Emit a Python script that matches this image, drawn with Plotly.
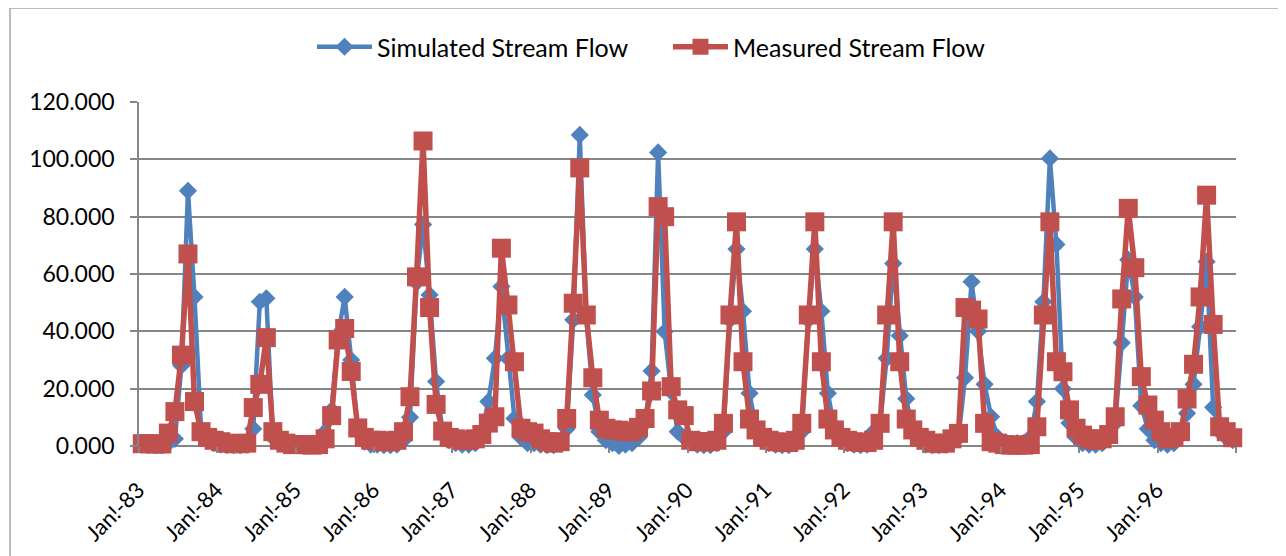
import plotly.graph_objects as go

# ---- data (monthly, Jan-1983 .. Dec-1996) ----
simulated = [
    0.5, 0.5, 0.3, 0.3, 1, 2.5, 28, 89, 52, 6, 2, 1,            # 1983
    0.5, 0.3, 0.3, 0.3, 0.5, 6, 50.3, 51.5, 3, 1, 0.5, 0.3,     # 1984
    0.3, 0.3, 0.3, 0.3, 5, 12.5, 39, 52, 30, 5, 1.5, 0.5,       # 1985
    0.5, 0.3, 0.3, 0.5, 2, 10, 57, 77.3, 52.7, 22.5, 5, 2,      # 1986
    1, 0.5, 0.5, 1, 5, 15.5, 30.6, 55.6, 30.6, 9.6, 3, 1,       # 1987
    1, 0.5, 0.3, 0.3, 1.5, 6, 44, 108.5, 45, 17.8, 5, 2,        # 1988
    1, 0, 0.5, 1, 3, 8, 26.2, 102.4, 39.9, 19, 5, 3,            # 1989
    1.5, 0.5, 0.3, 0.3, 1, 5, 44, 68.7, 47, 18.4, 6, 2,         # 1990
    1, 0.5, 0.3, 0.3, 1, 5, 44, 68.7, 47, 18.4, 6, 2,           # 1991
    1, 0.5, 0.3, 0.5, 5, 8, 30.6, 63.7, 38.5, 16.5, 5, 2,       # 1992
    0.5, 0.3, 0.3, 0.5, 1.5, 3, 23.8, 57.3, 40, 21.5, 10.2, 3,  # 1993
    1, 0.5, 1, 1, 3, 15.5, 50.3, 100.3, 70.3, 20, 8, 3,         # 1994
    1, 0.5, 0.5, 1, 3, 8, 36, 65, 52, 14, 6, 2,                 # 1995
    1, 0.5, 1, 5, 11.4, 21.5, 41.6, 64.3, 13.5, 5, 3, 2,        # 1996
]
measured = [
    0.8, 0.8, 0.7, 0.7, 4.5, 12, 31.7, 67, 15.5, 5, 3, 2,       # 1983
    1.5, 1, 0.8, 0.8, 1, 13.4, 21.5, 37.8, 5, 2, 1, 0.5,        # 1984
    0.5, 0.5, 0.3, 0.5, 2.5, 10.6, 37, 41, 26, 6.3, 3, 2,       # 1985
    2, 1.5, 1.5, 2, 5, 17.2, 59, 106.4, 48.3, 14.5, 5.2, 3,     # 1986
    2.5, 2, 2, 2.5, 4, 8, 10.2, 69, 49.2, 29.4, 6.2, 5,         # 1987
    4.5, 2.5, 1.5, 1, 1.5, 9.6, 49.8, 97, 45.7, 23.8, 9, 6.2,   # 1988
    5.6, 5.5, 5, 5, 6.5, 9.6, 19.2, 83.5, 80, 20.7, 12.6, 10.6, # 1989
    2, 1.5, 1.5, 1.5, 2, 7.9, 45.7, 78.2, 29.4, 9.4, 5.6, 3,    # 1990
    2, 1.5, 1.2, 1.2, 2, 7.9, 45.7, 78.2, 29.4, 9.4, 5.6, 3,    # 1991
    2, 1.5, 1.2, 1.2, 2, 7.9, 45.7, 78.2, 29.4, 9.4, 5.6, 3,    # 1992
    2, 1, 0.8, 1, 2.5, 4.4, 48.3, 47.4, 44.3, 7.9, 1.5, 1,      # 1993
    0.5, 0.3, 0.3, 0.3, 0.5, 6.7, 45.7, 78.2, 29.4, 25.9, 12.6, 6.2,  # 1994
    3.8, 2.5, 2, 2.5, 4, 10.2, 51.3, 82.9, 62.2, 24.2, 14.3, 9, # 1995
    5, 2.5, 3, 5, 16.4, 28.5, 52, 87.5, 42.4, 6.7, 5, 2.9,      # 1996
]
tick_labels = ["Jan!-83", "Jan!-84", "Jan!-85", "Jan!-86", "Jan!-87", "Jan!-88",
               "Jan!-89", "Jan!-90", "Jan!-91", "Jan!-92", "Jan!-93", "Jan!-94",
               "Jan!-95", "Jan!-96"]

n = len(measured)
x = list(range(n))
tick_vals = [12 * k for k in range(len(tick_labels))]
boundary_ticks = [12 * k - 0.5 for k in range(len(tick_labels) + 1)]

FONT = "Lato, Carlito, Calibri, sans-serif"
BLUE = "#4F81BD"
RED = "#C0504D"
GRID = "#868686"

# page has an 8px body margin -> figure drawn 8px in from top-left
W, H = 1278, 548
L, T = 131, 94
PW, PH = 1097, 344

fig = go.Figure()
fig.add_trace(go.Scatter(
    x=x, y=simulated, name="Simulated Stream Flow", mode="lines+markers",
    line=dict(color=BLUE, width=4.5),
    marker=dict(symbol="diamond", size=14, color=BLUE),
    cliponaxis=False,
))
fig.add_trace(go.Scatter(
    x=x, y=measured, name="Measured Stream Flow", mode="lines+markers",
    line=dict(color=RED, width=5.5),
    marker=dict(symbol="square", size=19, color=RED),
    cliponaxis=False,
))

fig.update_layout(
    width=W, height=H,
    margin=dict(l=L, r=W - L - PW, t=T, b=H - T - PH, autoexpand=False),
    paper_bgcolor="white", plot_bgcolor="white",
    font=dict(family=FONT, size=23, color="black"),
    showlegend=True,
    legend=dict(orientation="h", xref="container", yref="container",
                x=304 / W, xanchor="left", y=1 - 39 / H, yanchor="middle",
                font=dict(family=FONT, size=25), itemwidth=55,
                entrywidth=286, entrywidthmode="pixels",
                bgcolor="rgba(0,0,0,0)"),
    xaxis=dict(range=[-0.5, n - 0.5], tickmode="array", tickvals=tick_vals,
               ticktext=tick_labels, tickangle=-45, ticks="",
               showgrid=False, zeroline=False, showline=False,
               ticklabelshift=-4, ticklabelstandoff=26,
               tickfont=dict(family=FONT, size=22),
               minor=dict(tickmode="array", tickvals=boundary_ticks, ticks="outside",
                          ticklen=6, tickcolor=GRID, tickwidth=1.5, showgrid=False)),
    yaxis=dict(range=[0, 120], tickmode="array", tickvals=[0, 20, 40, 60, 80, 100, 120],
               ticktext=["0.000", "20.000", "40.000", "60.000", "80.000", "100.000", "120.000"],
               ticks="outside", ticklen=7, tickcolor=GRID, tickwidth=1.5,
               showgrid=True, gridcolor=GRID, gridwidth=1.5,
               zeroline=True, zerolinecolor=GRID, zerolinewidth=1.5,
               showline=True, linecolor=GRID, linewidth=1.5,
               ticklabelstandoff=11,
               tickfont=dict(family=FONT, size=23)),
    shapes=[dict(type="rect", xref="paper", yref="paper",
                 x0=(2 - L) / PW, x1=(1276 - L) / PW,
                 y0=(T + PH - 570) / PH, y1=(T + PH - 0) / PH,
                 line=dict(color="#A6A6A6", width=1.5), layer="below")],
)

fig.write_html("out.html")
